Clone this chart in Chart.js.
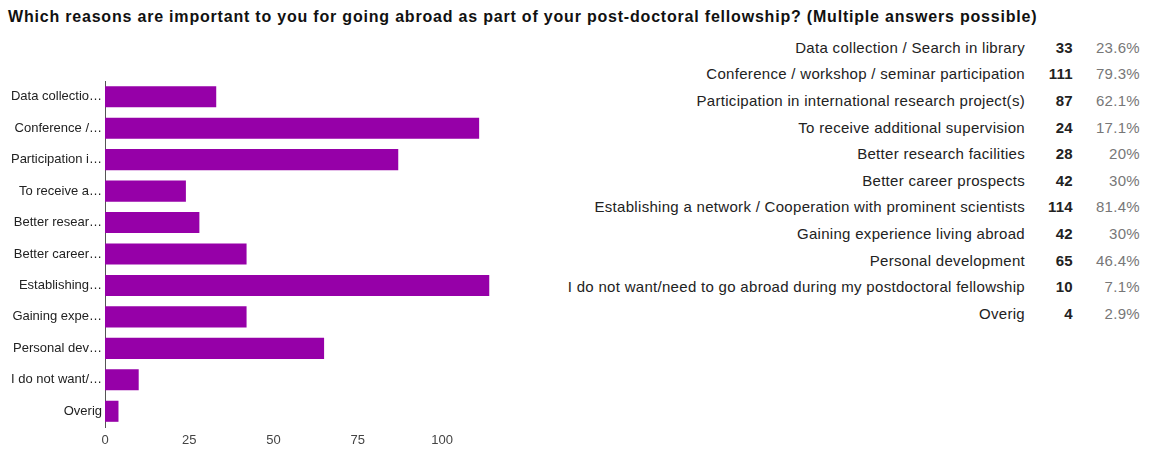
<!DOCTYPE html>
<html>
<head>
<meta charset="utf-8">
<script src="https://cdn.jsdelivr.net/npm/chart.js@4"></script>
<style>
  body { margin: 0; background: #fff; font-family: "Liberation Sans", Arial, sans-serif; }
  #title { position: absolute; left: 8px; top: 8px; font-size: 16px; letter-spacing: 0.8px; font-weight: bold; color: #111; white-space: nowrap; }
  #chart-box { position: absolute; left: 0; top: 70px; width: 520px; height: 380px; }
  #table { position: absolute; top: 34px; left: 540px; border-collapse: collapse; font-size: 15px; letter-spacing: 0.3px; }
  #table td { height: 26.6px; padding: 0; text-align: right; white-space: nowrap; }
  #table td.label { color: #222; width: 485px; }
  #table td.count { color: #222; font-weight: bold; width: 48px; }
  #table td.pct { color: #777; width: 67px; }
</style>
</head>
<body>
<div id="title">Which reasons are important to you for going abroad as part of your post-doctoral fellowship? (Multiple answers possible)</div>
<div id="chart-box"><canvas id="myChart"></canvas></div>
<table id="table"><tbody></tbody></table>
<script>
const categories = [
    "Data collection / Search in library",
    "Conference / workshop / seminar participation",
    "Participation in international research project(s)",
    "To receive additional supervision",
    "Better research facilities",
    "Better career prospects",
    "Establishing a network / Cooperation with prominent scientists",
    "Gaining experience living abroad",
    "Personal development",
    "I do not want/need to go abroad during my postdoctoral fellowship",
    "Overig"
];
const axisLabels = [
    "Data collectio\u2026", "Conference /\u2026", "Participation i\u2026", "To receive a\u2026",
    "Better resear\u2026", "Better career\u2026", "Establishing\u2026", "Gaining expe\u2026",
    "Personal dev\u2026", "I do not want/\u2026", "Overig"
];
const counts = [33, 111, 87, 24, 28, 42, 114, 42, 65, 10, 4];
const percents = ["23.6%", "79.3%", "62.1%", "17.1%", "20%", "30%", "81.4%", "30%", "46.4%", "7.1%", "2.9%"];
const xTicks = [0, 25, 50, 75, 100];

// side table
const tbody = document.querySelector("#table tbody");
categories.forEach((name, i) => {
    const tr = document.createElement("tr");
    tr.innerHTML = `<td class="label">${name}</td><td class="count">${counts[i]}</td><td class="pct">${percents[i]}</td>`;
    tbody.appendChild(tr);
});

const tickFont = { family: "'Liberation Sans', Arial, sans-serif", size: 13 };

new Chart(document.querySelector("#myChart"), {
    type: "bar",
    data: {
        labels: axisLabels,
        datasets: [
            {
                data: counts,
                backgroundColor: "#9600a8",
                barPercentage: 0.67,
                categoryPercentage: 1
            }
        ]
    },
    options: {
        indexAxis: "y",
        responsive: true,
        maintainAspectRatio: false,
        animation: false,
        layout: { padding: { top: 11, right: 24, left: 0, bottom: 0 } },
        plugins: { legend: { display: false }, tooltip: { enabled: false } },
        scales: {
            x: {
                min: 0,
                max: 116,
                grid: { display: false, drawTicks: false },
                border: { display: false },
                afterFit: scale => { scale.height = 23; },
                afterBuildTicks: scale => { scale.ticks = xTicks.map(v => ({ value: v })); },
                ticks: { padding: 6, color: "#444", font: tickFont }
            },
            y: {
                grid: { display: false, drawTicks: false },
                border: { display: true, color: "#555", width: 1 },
                afterFit: scale => { scale.width = 105; },
                ticks: { padding: 3, color: "#222", font: tickFont, autoSkip: false }
            }
        }
    }
});
</script>
</body>
</html>
